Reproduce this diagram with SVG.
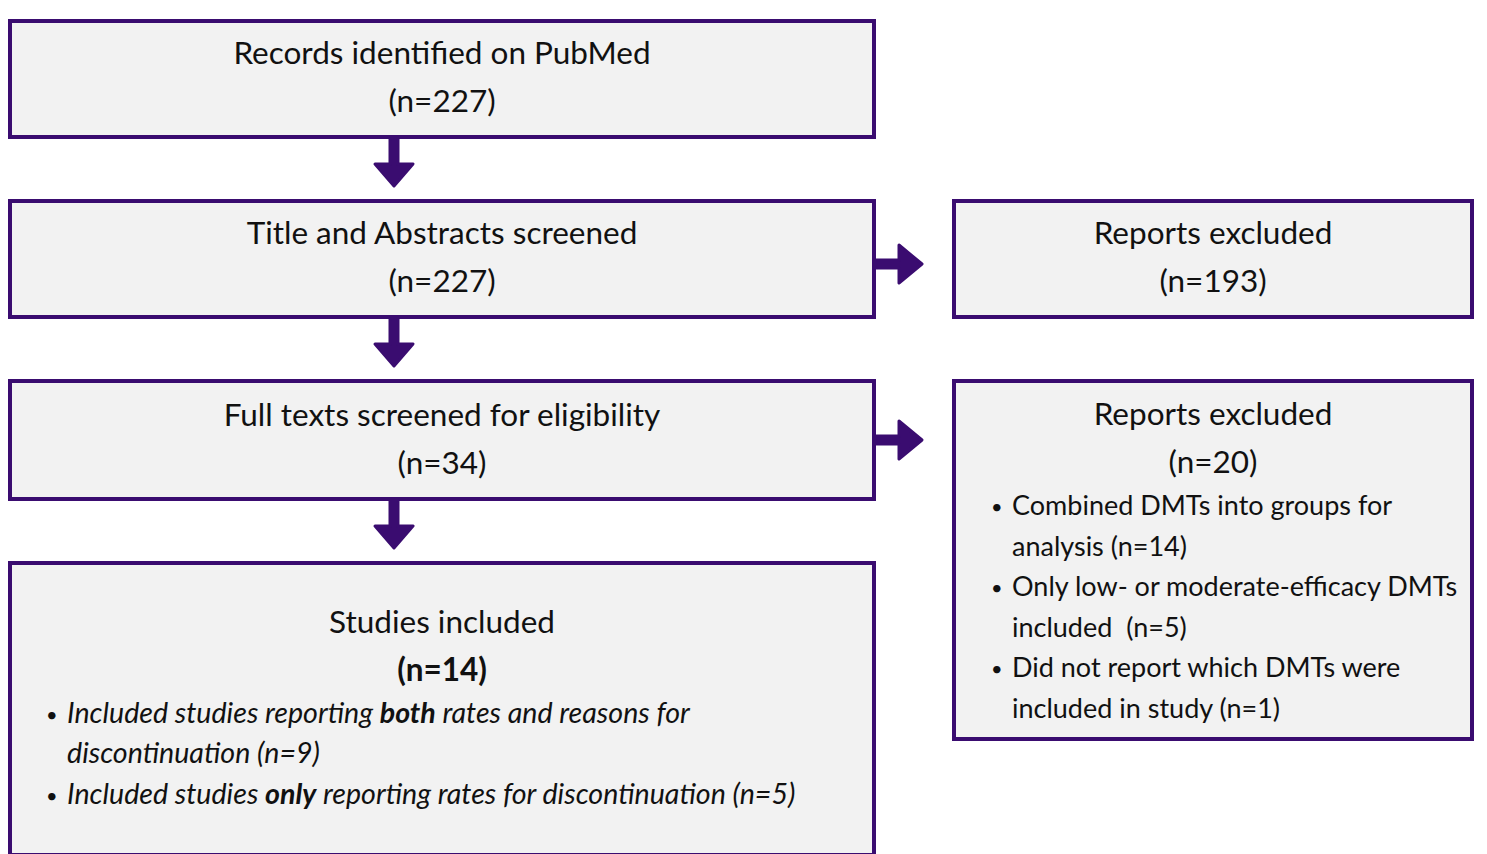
<svg xmlns="http://www.w3.org/2000/svg" width="1487" height="854" viewBox="0 0 1487 854">
<style>
.box{fill:#f2f2f2;stroke:#3a0c70;stroke-width:4}
.t{font-family:Lato,"Open Sans","Liberation Sans",sans-serif;font-size:31.5px;fill:#111;text-anchor:middle}
.b{font-family:Lato,"Open Sans","Liberation Sans",sans-serif;font-size:27px;fill:#111}
.i{font-style:italic;font-size:28.6px}
.d{font-family:Lato,"Open Sans","Liberation Sans",sans-serif;font-size:20px;fill:#111}
.arr{fill:#3a0c70;stroke:#3a0c70;stroke-width:3;stroke-linejoin:round}
</style>
<rect width="1487" height="854" fill="#fff"/>
<g id="n1"><rect class="box" x="10" y="21" width="864" height="116"/>
<text class="t" x="442" y="64">Records identified on PubMed</text>
<text class="t" x="442" y="112">(n=227)</text></g>
<g id="n2"><rect class="box" x="10" y="201" width="864" height="116"/>
<text class="t" x="442" y="244">Title and Abstracts screened</text>
<text class="t" x="442" y="292">(n=227)</text></g>
<g id="n3"><rect class="box" x="10" y="381" width="864" height="118"/>
<text class="t" x="442" y="426">Full texts screened for eligibility</text>
<text class="t" x="442" y="474">(n=34)</text></g>
<g id="n4"><rect class="box" x="10" y="563" width="864" height="292"/>
<text class="t" x="442" y="633">Studies included</text>
<text class="t" x="442" y="681" font-weight="bold">(n=14)</text>
<text class="d" x="46" y="722">•</text>
<text class="b i" x="67" y="723">Included studies reporting <tspan font-weight="bold">both</tspan> rates and reasons for</text>
<text class="b i" x="67" y="763">discontinuation (n=9)</text>
<text class="d" x="46" y="803">•</text>
<text class="b i" x="67" y="804">Included studies <tspan font-weight="bold">only</tspan> reporting rates for discontinuation (n=5)</text></g>
<g id="n5"><rect class="box" x="954" y="201" width="518" height="116"/>
<text class="t" x="1213" y="244">Reports excluded</text>
<text class="t" x="1213" y="292">(n=193)</text></g>
<g id="n6"><rect class="box" x="954" y="381" width="518" height="358"/>
<text class="t" x="1213" y="425">Reports excluded</text>
<text class="t" x="1213" y="473">(n=20)</text>
<text class="d" x="991" y="514">•</text><text class="b" x="1012" y="515">Combined DMTs into groups for</text>
<text class="b" x="1012" y="556">analysis (n=14)</text>
<text class="d" x="991" y="595">•</text><text class="b" x="1012" y="596">Only low- or moderate-efficacy DMTs</text>
<text class="b" x="1012" y="637" xml:space="preserve">included  (n=5)</text>
<text class="d" x="991" y="676">•</text><text class="b" x="1012" y="677">Did not report which DMTs were</text>
<text class="b" x="1012" y="718">included in study (n=1)</text></g>
<g id="connectors">
<path class="arr" d="M390 139 V164 H375 L394 186 L413 164 H398 V139 Z"/>
<path class="arr" d="M390 319 V344 H375 L394 366 L413 344 H398 V319 Z"/>
<path class="arr" d="M390 501 V526 H375 L394 548 L413 526 H398 V501 Z"/>
<path class="arr" d="M876 260 H899 V245 L922 264 L899 283 V268 H876 Z"/>
<path class="arr" d="M876 436 H899 V421 L922 440 L899 459 V444 H876 Z"/>
</g>
</svg>
